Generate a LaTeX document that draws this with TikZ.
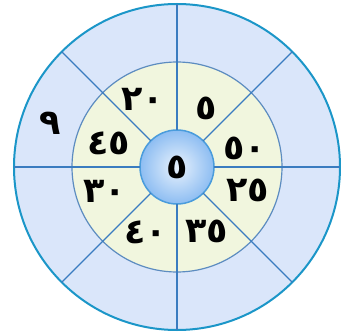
\documentclass[tikz,border=0pt]{standalone}
\usepackage{fontspec}
\newfontfamily\arabicfont[Script=Arabic]{DejaVu Sans}
\usetikzlibrary{positioning}

\definecolor{rimline}{HTML}{1B96C8}
\definecolor{spoke}{HTML}{3A7CC0}
\definecolor{outerfill}{HTML}{DAE6FA}
\definecolor{midfill}{HTML}{F1F6DE}
\definecolor{midline}{HTML}{5C8CC0}
\definecolor{hubedge}{HTML}{4A9CDC}
\definecolor{hubdark}{HTML}{8DBDF2}

\begin{document}
\begin{tikzpicture}[
    x=1pt, y=1pt,
    every node/.style={font=\arabicfont\bfseries\fontsize{35}{35}\selectfont},
    rim/.style={circle, draw=rimline, fill=outerfill, line width=2pt,
                minimum size=326pt, inner sep=0pt, outer sep=0pt},
    midring/.style={circle, draw=midline, fill=midfill, line width=1.2pt,
                minimum size=210pt, inner sep=0pt},
    hubdisc/.style={circle, draw=hubedge, line width=1.5pt, inner color=white!80!hubdark,
                outer color=hubdark, minimum size=74pt, inner sep=0pt, outer sep=0pt},
    spokeline/.style={draw=spoke, line width=1.4pt},
    num/.style={inner sep=0pt},
]
\useasboundingbox (-177,-168) rectangle (164,167);

\node[rim] (rim) at (0,0) {};
\node[midring] (mid) at (0,0) {};
\node[hubdisc] (hub) at (0,0) {٥};

\foreach \a in {0,45,...,315}
    \draw[spokeline] (hub.\a) -- (rim.\a);

% inner ring numbers
\node[num] (n20) at (-34,68) {٢٠};
\node[num] (n5) at (29,59) {٥};
\node[num] (n50) at (68,19) {٥٠};
\node[num] (n25) at (71,-23) {٢٥};
\node[num] (n35) at (30,-64) {٣٥};
\node[num] (n40) at (-31,-65) {٤٠};
\node[num] (n30) at (-72,-24) {٣٠};
\node[num] (n45) at (-68,24) {٤٥};

% outer ring
\node[num] (n9) at (-127,44) {٩};

\end{tikzpicture}
\end{document}
